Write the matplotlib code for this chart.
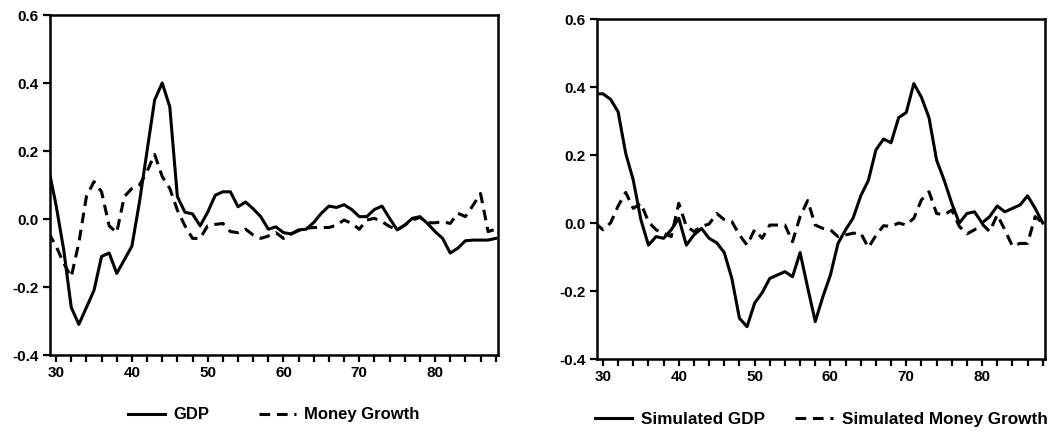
import matplotlib
matplotlib.use("Agg")
import matplotlib.pyplot as plt
from matplotlib.ticker import FixedLocator

plt.rcParams['font.family'] = ['Liberation Sans', 'DejaVu Sans']

years = list(range(29, 89))

gdp = [0.15, 0.04, -0.09, -0.26, -0.31, -0.26, -0.21, -0.11, -0.10, -0.16,
       -0.12, -0.08, 0.05, 0.20, 0.35, 0.40, 0.33, 0.066, 0.02, 0.015,
       -0.02, 0.02, 0.07, 0.08, 0.08, 0.036, 0.05, 0.03, 0.007, -0.03,
       -0.023, -0.04, -0.044, -0.032, -0.03, -0.01, 0.017, 0.038, 0.034, 0.042,
       0.028, 0.007, 0.007, 0.028, 0.038, 0.002, -0.032, -0.018, 0.002, 0.007,
       -0.013, -0.037, -0.057, -0.10, -0.086, -0.064, -0.062, -0.062, -0.062, -0.057]

money = [-0.04, -0.08, -0.13, -0.17, -0.07, 0.066, 0.11, 0.08, -0.02, -0.04,
         0.066, 0.09, 0.10, 0.14, 0.19, 0.125, 0.09, 0.026, -0.02, -0.057,
         -0.057, -0.02, -0.016, -0.013, -0.037, -0.04, -0.03, -0.047, -0.057, -0.05,
         -0.04, -0.057, -0.044, -0.034, -0.027, -0.025, -0.025, -0.025, -0.018, -0.003,
         -0.013, -0.03, -0.003, 0.002, -0.008, -0.022, -0.032, -0.018, -0.003, 0.005,
         -0.011, -0.011, -0.008, -0.013, 0.017, 0.007, 0.04, 0.075, -0.037, -0.03]

sim_gdp = [0.38, 0.38, 0.364, 0.327, 0.205, 0.126, 0.01, -0.065, -0.04, -0.045,
           -0.02, 0.014, -0.065, -0.035, -0.016, -0.045, -0.058, -0.087, -0.163, -0.28,
           -0.305, -0.236, -0.205, -0.163, -0.153, -0.143, -0.158, -0.087, -0.19, -0.29,
           -0.217, -0.153, -0.06, -0.02, 0.015, 0.08, 0.125, 0.215, 0.247, 0.236,
           0.31, 0.325, 0.41, 0.37, 0.31, 0.185, 0.126, 0.058, 0.0, 0.028,
           0.033, 0.0, 0.019, 0.05, 0.033, 0.043, 0.053, 0.08, 0.043, 0.0]

sim_money = [0.0, -0.02, 0.0, 0.05, 0.09, 0.043, 0.058, 0.004, -0.02, -0.03,
             -0.04, 0.058, -0.01, -0.025, -0.01, -0.003, 0.028, 0.01, 0.004, -0.035,
             -0.065, -0.02, -0.045, -0.006, -0.006, -0.006, -0.055, 0.019, 0.066, -0.006,
             -0.016, -0.02, -0.04, -0.035, -0.03, -0.03, -0.072, -0.037, -0.008, -0.01,
             0.0, -0.006, 0.014, 0.068, 0.092, 0.028, 0.024, 0.038, -0.01, -0.032,
             -0.02, -0.003, -0.025, 0.024, -0.02, -0.068, -0.06, -0.06, 0.019, 0.0]

yticks = [-0.4, -0.2, 0.0, 0.2, 0.4, 0.6]
xticks = [30, 40, 50, 60, 70, 80]

fig = plt.figure(figsize=(10.49, 4.34), dpi=100)
ax1 = fig.add_axes([0.0477, 0.182, 0.427, 0.7834])
ax2 = fig.add_axes([0.569, 0.1728, 0.4272, 0.7834])

dash = (0, (3.5, 2.2))

def style(ax, colspace, fsize):
    ax.set_xlim(29.2, 88.3)
    ax.set_ylim(-0.4, 0.6)
    ax.set_yticks(yticks)
    ax.set_yticklabels([f"{v:.1f}" for v in yticks])
    ax.set_xticks(xticks)
    ax.set_xticklabels([str(v) for v in xticks])
    ax.xaxis.set_minor_locator(FixedLocator([y for y in range(30, 89, 2) if y % 10 != 0]))
    for s in ax.spines.values():
        s.set_linewidth(1.8)
    ax.tick_params(axis='both', which='both', direction='out', length=5, width=1.6,
                   labelsize=11, pad=3)
    ax.tick_params(axis='x', which='both', top=False)
    ax.tick_params(axis='y', right=False)
    for t in ax.get_xticklabels() + ax.get_yticklabels():
        t.set_fontweight('bold')
    ax.legend(loc='upper center', bbox_to_anchor=(0.5, -0.11), ncol=2, frameon=False,
              prop={'size': fsize, 'weight': 'bold'}, handlelength=2.2,
              columnspacing=colspace, handletextpad=0.5)

ax1.plot(years, gdp, color='black', lw=2.2, label='GDP')
ax1.plot(years, money, color='black', lw=2.2, linestyle=dash, label='Money Growth')
style(ax1, 3.0, 12)

ax2.plot(years, sim_gdp, color='black', lw=2.2, label='Simulated GDP')
ax2.plot(years, sim_money, color='black', lw=2.2, linestyle=dash, label='Simulated Money Growth')
style(ax2, 1.8, 12.3)

fig.savefig('out.png', dpi=100)
